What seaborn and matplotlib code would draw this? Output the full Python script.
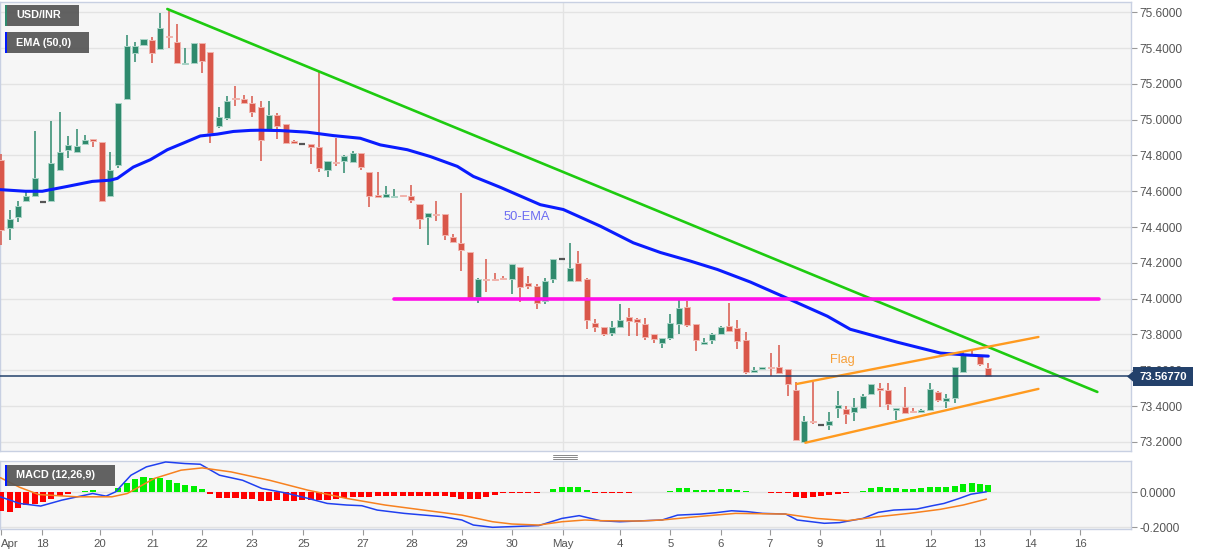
import numpy as np
import pandas as pd
import matplotlib
matplotlib.use('Agg')
import matplotlib.pyplot as plt
from matplotlib.patches import Rectangle, Polygon
from matplotlib.lines import Line2D
import seaborn as sns

# ---- USD/INR 4h candles ----
opens = [74.776, 74.392, 74.457, 74.544, 74.572, 74.540, 74.544, 74.720, 74.832, 74.822,
         74.865, 74.891, 74.874, 74.572, 74.744, 75.116, 75.374, 75.416, 75.444, 75.392,
         75.470, 75.435, 75.310, 75.318, 75.426, 75.379, 74.967, 75.008, 75.119, 75.116,
         75.091, 75.073, 74.943, 75.026, 74.974, 74.878, 74.865, 74.865, 74.846, 74.720,
         74.763, 74.767, 74.763, 74.813, 74.707, 74.575, 74.566, 74.568, 74.577, 74.575,
         74.531, 74.455, 74.473, 74.475, 74.345, 74.312, 74.260, 74.011, 74.111, 74.111,
         74.115, 74.108, 74.176, 74.086, 74.071, 73.987, 74.112, 74.223, 74.099, 74.201,
         74.108, 73.863, 73.842, 73.807, 73.839, 73.900, 73.885, 73.861, 73.805, 73.750,
         73.779, 73.861, 73.954, 73.857, 73.750, 73.770, 73.805, 73.848, 73.835, 73.768,
         73.588, 73.607, 73.616, 73.620, 73.607, 73.490, 73.202, 73.319, 73.297, 73.295,
         73.388, 73.384, 73.365, 73.388, 73.467, 73.501, 73.492, 73.378, 73.397, 73.373,
         73.369, 73.378, 73.477, 73.430, 73.443, 73.592, 73.690, 73.677, 73.610]
highs = [74.807, 74.497, 74.544, 74.594, 74.934, 74.540, 74.995, 75.041, 74.910, 74.947,
         74.915, 74.891, 74.874, 74.822, 75.091, 75.472, 75.435, 75.448, 75.463, 75.593,
         75.618, 75.537, 75.401, 75.426, 75.430, 75.380, 75.069, 75.134, 75.188, 75.138,
         75.132, 75.104, 75.104, 75.036, 74.974, 74.885, 74.865, 74.865, 75.268, 74.770,
         74.896, 74.804, 74.826, 74.813, 74.707, 74.707, 74.627, 74.613, 74.580, 74.637,
         74.531, 74.479, 74.544, 74.475, 74.362, 74.590, 74.260, 74.117, 74.219, 74.145,
         74.126, 74.191, 74.176, 74.126, 74.080, 74.117, 74.223, 74.223, 74.312, 74.266,
         74.117, 73.889, 73.842, 73.876, 73.969, 73.950, 73.894, 73.894, 73.805, 73.783,
         73.913, 73.996, 73.987, 73.857, 73.783, 73.807, 73.848, 73.974, 73.881, 73.815,
         73.621, 73.620, 73.696, 73.740, 73.607, 73.536, 73.343, 73.536, 73.297, 73.365,
         73.482, 73.403, 73.443, 73.467, 73.523, 73.527, 73.527, 73.388, 73.505, 73.391,
         73.384, 73.527, 73.486, 73.467, 73.621, 73.709, 73.714, 73.685, 73.640]
lows = [74.300, 74.327, 74.429, 74.544, 74.570, 74.540, 74.544, 74.720, 74.785, 74.817,
        74.860, 74.850, 74.544, 74.568, 74.730, 75.116, 75.323, 75.416, 75.314, 75.392,
        75.398, 75.318, 75.310, 75.318, 75.262, 74.869, 74.952, 74.999, 75.077, 75.086,
        75.013, 74.767, 74.940, 74.891, 74.869, 74.865, 74.865, 74.752, 74.707, 74.679,
        74.742, 74.702, 74.763, 74.717, 74.512, 74.572, 74.566, 74.563, 74.570, 74.535,
        74.390, 74.297, 74.433, 74.330, 74.316, 74.154, 74.000, 73.978, 74.039, 74.098,
        74.102, 74.024, 73.982, 74.052, 73.941, 73.969, 74.089, 74.223, 74.095, 74.099,
        73.833, 73.811, 73.789, 73.789, 73.839, 73.789, 73.789, 73.768, 73.750, 73.724,
        73.770, 73.802, 73.842, 73.709, 73.748, 73.746, 73.805, 73.820, 73.718, 73.579,
        73.588, 73.607, 73.570, 73.584, 73.458, 73.208, 73.198, 73.300, 73.297, 73.269,
        73.332, 73.300, 73.319, 73.384, 73.467, 73.393, 73.380, 73.323, 73.362, 73.367,
        73.365, 73.378, 73.421, 73.389, 73.417, 73.592, 73.686, 73.625, 73.568]
closes = [74.386, 74.447, 74.516, 74.572, 74.674, 74.540, 74.757, 74.822, 74.856, 74.850,
          74.887, 74.878, 74.544, 74.720, 75.091, 75.411, 75.411, 75.448, 75.370, 75.513,
          75.463, 75.318, 75.318, 75.426, 75.327, 74.924, 75.013, 75.106, 75.114, 75.091,
          75.045, 74.887, 75.026, 74.967, 74.869, 74.869, 74.865, 74.850, 74.730, 74.770,
          74.757, 74.798, 74.813, 74.735, 74.572, 74.572, 74.585, 74.575, 74.572, 74.553,
          74.447, 74.479, 74.466, 74.358, 74.316, 74.271, 74.000, 74.108, 74.108, 74.106,
          74.108, 74.191, 74.067, 74.071, 73.978, 74.099, 74.223, 74.223, 74.173, 74.099,
          73.881, 73.839, 73.805, 73.839, 73.881, 73.876, 73.872, 73.787, 73.774, 73.779,
          73.866, 73.946, 73.854, 73.768, 73.755, 73.802, 73.842, 73.820, 73.764, 73.588,
          73.603, 73.616, 73.612, 73.584, 73.523, 73.208, 73.319, 73.313, 73.297, 73.315,
          73.408, 73.356, 73.393, 73.458, 73.523, 73.490, 73.412, 73.388, 73.362, 73.367,
          73.380, 73.495, 73.434, 73.445, 73.621, 73.690, 73.688, 73.634, 73.568]
last_price = 73.5677

# 50-EMA read at candle positions
ema_idx = [-0.12, 2.87, 4.90, 7.89, 10.88, 13.03, 13.87, 15.78, 17.81, 19.85, 21.76, 23.79,
           25.82, 27.74, 29.77, 30.97, 33.36, 36.59, 39.69, 42.92, 45.31, 48.54, 51.29,
           54.52, 56.43, 59.66, 64.44, 67.19, 71.62, 75.56, 78.79, 82.38, 85.61, 89.55,
           93.97, 98.76, 101.5, 107.1, 112.3, 115.5, 118.0]
ema_val = [74.609, 74.600, 74.600, 74.627, 74.655, 74.662, 74.672, 74.735, 74.776, 74.832,
           74.869, 74.909, 74.919, 74.934, 74.940, 74.941, 74.939, 74.930, 74.911, 74.896,
           74.859, 74.832, 74.794, 74.739, 74.683, 74.622, 74.525, 74.498, 74.405, 74.312,
           74.258, 74.210, 74.163, 74.093, 74.002, 73.902, 73.829, 73.757, 73.696, 73.685,
           73.679]

# drawn studies
trend_x, trend_y = [19.85, 131.04], [75.618, 73.479]
support_x, support_y = [46.99, 131.2], [74.0, 74.0]
flag_up_x, flag_up_y = [95.05, 124.0], [73.523, 73.786]
flag_lo_x, flag_lo_y = [96.13, 124.0], [73.195, 73.496]

# MACD (12,26,9)
hist = [-0.107, -0.110, -0.088, -0.072, -0.067, -0.055, -0.038, -0.020, -0.006, 0.003,
        0.010, 0.015, 0.001, 0.001, 0.027, 0.057, 0.076, 0.086, 0.084, 0.084,
        0.070, 0.057, 0.042, 0.038, 0.020, -0.011, -0.030, -0.034, -0.034, -0.038,
        -0.038, -0.050, -0.050, -0.044, -0.050, -0.050, -0.044, -0.044, -0.044, -0.044,
        -0.038, -0.030, -0.025, -0.025, -0.025, -0.021, -0.021, -0.021, -0.019, -0.019,
        -0.019, -0.021, -0.021, -0.023, -0.025, -0.038, -0.038, -0.036, -0.025, -0.017,
        -0.005, -0.003, -0.003, -0.003, -0.002, 0.003, 0.019, 0.029, 0.032, 0.029,
        0.013, -0.002, -0.003, -0.003, -0.002, -0.001, 0.001, 0.002, 0.001, 0.002,
        0.011, 0.023, 0.023, 0.015, 0.015, 0.015, 0.019, 0.019, 0.015, 0.006,
        0.001, 0.000, -0.001, -0.002, -0.004, -0.025, -0.029, -0.025, -0.021, -0.015,
        -0.006, -0.002, 0.002, 0.010, 0.025, 0.029, 0.027, 0.023, 0.019, 0.019,
        0.023, 0.029, 0.029, 0.029, 0.038, 0.051, 0.055, 0.051, 0.042]
macd_idx = [-0.12, 2.18, 4.71, 7.24, 10.92, 12.53, 13.68, 15.5, 17.35, 19.65, 21.95, 23.79,
            26.09, 28.85, 31.15, 33.91, 36.67, 38.97, 41.27, 43.1, 44.94, 48.17, 52.76,
            55.06, 56.44, 58.74, 61.04, 64.26, 67.02, 69.09, 71.62, 73.93, 79.0, 80.85,
            83.62, 85.47, 87.31, 89.16, 91.01, 93.78, 95.16, 98.4, 100.24, 103.01, 104.86,
            106.7, 109.47, 111.32, 112.7, 114.55, 115.93, 117.78]
macd_val = [-0.025, -0.063, -0.078, -0.044, -0.006, -0.021, 0.004, 0.099, 0.147, 0.175,
            0.166, 0.162, 0.099, 0.070, 0.023, -0.002, -0.034, -0.063, -0.072, -0.076,
            -0.101, -0.120, -0.139, -0.158, -0.187, -0.200, -0.196, -0.190, -0.149, -0.133,
            -0.162, -0.168, -0.158, -0.130, -0.124, -0.116, -0.105, -0.110, -0.120, -0.124,
            -0.158, -0.177, -0.173, -0.149, -0.114, -0.101, -0.095, -0.076, -0.063, -0.034,
            -0.010, 0.004]
sig_idx = [-0.12, 2.18, 4.48, 9.08, 13.22, 15.06, 18.27, 21.49, 24.02, 27.47, 32.07, 36.67,
           41.27, 45.87, 50.46, 55.06, 58.74, 61.04, 64.26, 67.02, 69.78, 71.62, 76.24,
           79.0, 83.16, 87.78, 93.78, 97.47, 101.16, 104.86, 108.55, 112.24, 115.01, 117.78]
sig_val = [0.085, 0.030, -0.012, -0.025, -0.025, -0.006, 0.080, 0.128, 0.141, 0.118,
           0.070, 0.013, -0.034, -0.072, -0.101, -0.130, -0.168, -0.181, -0.187, -0.168,
           -0.158, -0.162, -0.164, -0.158, -0.139, -0.120, -0.124, -0.149, -0.162, -0.139,
           -0.120, -0.097, -0.072, -0.038]

# date axis
tick_pos = [0.0, 4.9, 11.8, 18.05, 24.0, 30.0, 36.1, 43.2, 49.1, 55.1, 61.1, 67.1,
            74.0, 80.0, 86.0, 91.9, 97.9, 105.1, 111.1, 117.0, 123.0, 129.0]
tick_lbl = ['Apr', '18', '20', '21', '22', '23', '25', '27', '28', '29', '30', 'May',
            '4', '5', '6', '7', '9', '11', '12', '13', '14', '16']
price_ticks = [73.2, 73.4, 73.6, 73.8, 74.0, 74.2, 74.4, 74.6, 74.8, 75.0, 75.2, 75.4, 75.6]

GREEN, RED, DOJI = '#2f8a6d', '#d9574a', '#555555'
GRID, SPINE, PANEL = '#e3e3e3', '#c8d0e2', '#f6f6f6'
NAVY = '#23416b'

W, H = 1207, 555
sns.set_theme(style='white')
plt.rcParams['font.family'] = ['Liberation Sans', 'DejaVu Sans']

fig = plt.figure(figsize=(W / 100, H / 100), dpi=100)
fig.patch.set_facecolor('white')
ax = fig.add_axes([0.3 / W, 1 - 451 / H, 1131 / W, 449.5 / H])
mx = fig.add_axes([0.3 / W, 1 - 529 / H, 1131 / W, 68 / H])

df = pd.DataFrame({'o': opens, 'h': highs, 'l': lows, 'c': closes})
df['i'] = np.arange(len(df))

for a in (ax, mx):
    a.set_facecolor(PANEL)
    for s in a.spines.values():
        s.set_color(SPINE)
        s.set_linewidth(1)
    a.set_xlim(-0.12, 135.1)
    a.axvline(67.1, color=GRID, lw=1, zorder=0)
    a.yaxis.tick_right()
    a.tick_params(axis='y', colors='#999999', labelcolor='#555555', length=4,
                  width=0.8, pad=2, labelsize=8.6, right=True, left=False)

# candles
for mask, col, edge in [(df.c > df.o, GREEN, '#a9d3c6'), (df.c < df.o, RED, '#f1b5ae')]:
    d = df[mask]
    ax.vlines(d.i, d.l, d.h, color=col, lw=1.1, zorder=3)
    body = (d.c - d.o).abs().clip(lower=0.006)
    mid = (d.c + d.o) / 2
    ax.bar(d.i, body, bottom=mid - body / 2, width=0.72, color=col,
           edgecolor=edge, linewidth=0.7, zorder=4)
dj = df[df.c == df.o]
ax.hlines(dj.c, dj.i - 0.36, dj.i + 0.36, color=DOJI, lw=1.6, zorder=4)

sns.lineplot(x=ema_idx, y=ema_val, ax=ax, color='#0a1cff', lw=2.2, sort=False, zorder=5)
sns.lineplot(x=trend_x, y=trend_y, ax=ax, color='#1ecb10', lw=1.9, zorder=6)
sns.lineplot(x=support_x, y=support_y, ax=ax, color='#ff10e8', lw=2.6, zorder=6)
sns.lineplot(x=flag_up_x, y=flag_up_y, ax=ax, color='#ff9a1f', lw=1.7, zorder=6)
sns.lineplot(x=flag_lo_x, y=flag_lo_y, ax=ax, color='#ff9a1f', lw=1.7, zorder=6)
ax.axhline(last_price, color=NAVY, lw=1.1, zorder=7)

ax.text(60.0, 74.454, '50-EMA', color='#6c6cf2', fontsize=9.3, va='center', ha='left')
ax.text(99.1, 73.658, 'Flag', color='#f7a03a', fontsize=9.2, va='center', ha='left')

ax.set_ylim(73.149, 75.66)
ax.set_yticks(price_ticks)
ax.set_yticklabels([f'{p:.4f}' for p in price_ticks])
ax.grid(axis='y', color=GRID, lw=1)
ax.set_axisbelow(True)
ax.tick_params(axis='x', bottom=False, labelbottom=False)

# MACD panel
hcol = [('#00ee00' if v >= 0 else '#ff0000') for v in hist]
hb = np.array(hist)
hb_h = np.where(np.abs(hb) < 0.004, np.sign(hb + 1e-9) * 0.004, hb)
mx.bar(df.i, hb_h, width=0.72, color=hcol, linewidth=0, zorder=3)
sns.lineplot(x=macd_idx, y=macd_val, ax=mx, color='#2040f0', lw=1.1, sort=False, zorder=4)
sns.lineplot(x=sig_idx, y=sig_val, ax=mx, color='#f7811f', lw=1.1, sort=False, zorder=4)
mx.set_ylim(-0.2097, 0.1806)
mx.set_yticks([0.0, -0.2])
mx.set_yticklabels(['0.0000', '-0.2000'])
mx.grid(axis='y', color=GRID, lw=1)
mx.set_axisbelow(True)
mx.set_xticks(tick_pos)
mx.set_xticklabels(tick_lbl)
mx.tick_params(axis='x', bottom=True, colors='#999999', labelcolor='#555555',
               length=4, width=0.8, pad=3, labelsize=8.2)
mx.get_xticklabels()[0].set_ha('left')
mx.set_xlabel('')
ax.set_xlabel('')
ax.set_ylabel('')
mx.set_ylabel('')

def px_rect(x0, y0, x1, y1, color, alpha=1.0):
    fig.add_artist(Rectangle((x0 / W, 1 - y1 / H), (x1 - x0) / W, (y1 - y0) / H,
                             transform=fig.transFigure, facecolor=color,
                             edgecolor='none', alpha=alpha, zorder=10))

def label_box(x0, y0, x1, y1, bar, text):
    px_rect(x0, y0, x1, y1, '#555555', 0.92)
    px_rect(x0, y0, x0 + 2.2, y1, bar)
    fig.text((x0 + 11) / W, 1 - (y0 + y1) / 2 / H, text, color='white',
             fontsize=7.8, fontweight='bold', va='center', ha='left', zorder=11)

label_box(5, 5, 79, 25.7, '#2e8b6e', 'USD/INR')
label_box(5, 32, 89, 53, '#0018ff', 'EMA (50,0)')
label_box(5, 465, 115, 486, '#0018ff', 'MACD (12,26,9)')

# last price tag
px_rect(1133, 367, 1193, 386, NAVY)
fig.add_artist(Polygon([(1127 / W, 1 - 376.5 / H), (1133.5 / W, 1 - 371 / H),
                        (1133.5 / W, 1 - 382 / H)], closed=True,
                       transform=fig.transFigure, facecolor=NAVY, edgecolor='none',
                       zorder=10))
fig.text(1163 / W, 1 - 376.8 / H, f'{last_price:.5f}', color='white', fontsize=8.2,
         fontweight='bold', va='center', ha='center', zorder=11)

# panel resize handle
for yy in (454.5, 456.5, 458.5):
    fig.add_artist(Line2D([553 / W, 577 / W], [1 - yy / H, 1 - yy / H],
                          transform=fig.transFigure, color='#888888', lw=0.7))

fig.savefig('out.png', dpi=100, facecolor=fig.get_facecolor())
plt.close(fig)
